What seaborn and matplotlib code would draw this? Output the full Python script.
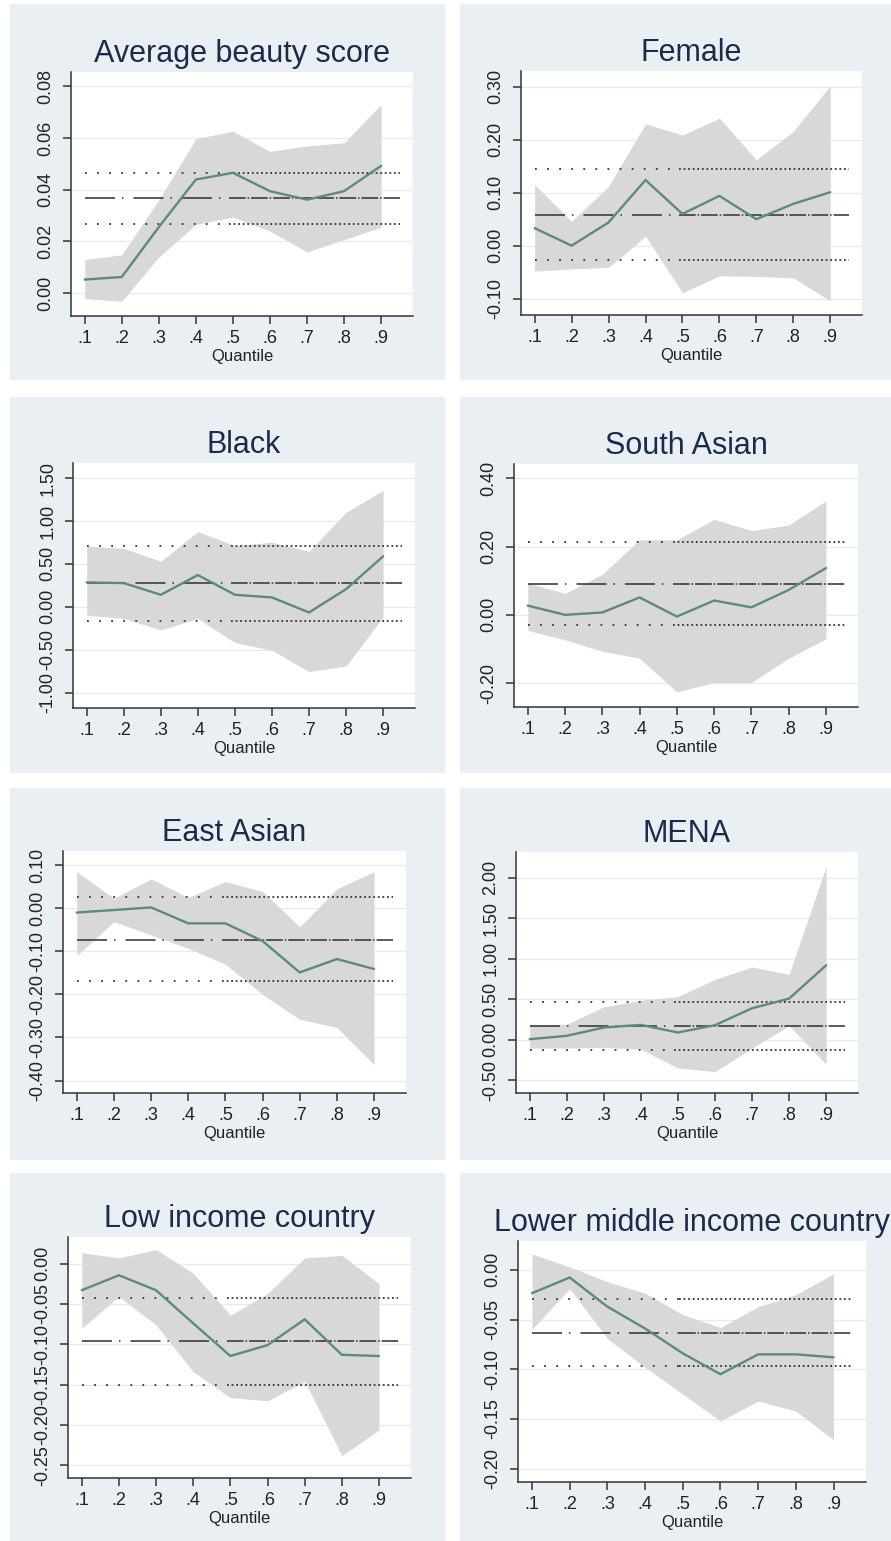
import matplotlib
matplotlib.use("Agg")
import matplotlib.pyplot as plt
from matplotlib.patches import Rectangle
import pandas as pd
import seaborn as sns

# ---------------------------------------------------------------------------
# Quantile-regression coefficients (solid line), their 95% bands (shaded),
# and the OLS coefficient with its 95% interval (horizontal lines).
# ---------------------------------------------------------------------------
quantiles = [0.1, 0.2, 0.3, 0.4, 0.5, 0.6, 0.7, 0.8, 0.9]
quantile_labels = [".1", ".2", ".3", ".4", ".5", ".6", ".7", ".8", ".9"]

titles = ["Average beauty score", "Female", "Black", "South Asian",
          "East Asian", "MENA", "Low income country",
          "Lower middle income country"]

beauty_coef = [0.0052, 0.0062, 0.0255, 0.0439, 0.0465, 0.0394, 0.0361, 0.0394, 0.0492]
beauty_hi = [0.0129, 0.0148, 0.0360, 0.0597, 0.0626, 0.0548, 0.0569, 0.0581, 0.0729]
beauty_lo = [-0.0022, -0.0032, 0.0139, 0.0265, 0.0294, 0.0239, 0.0159, 0.0206, 0.0255]
beauty_ols = [0.0369, 0.0266, 0.0466]

female_coef = [0.033, 0.000, 0.044, 0.124, 0.060, 0.094, 0.050, 0.079, 0.101]
female_hi = [0.115, 0.046, 0.112, 0.230, 0.209, 0.241, 0.162, 0.216, 0.302]
female_lo = [-0.048, -0.044, -0.041, 0.018, -0.089, -0.057, -0.058, -0.061, -0.104]
female_ols = [0.058, -0.028, 0.145]

black_coef = [0.284, 0.276, 0.140, 0.370, 0.140, 0.109, -0.066, 0.206, 0.588]
black_hi = [0.705, 0.681, 0.530, 0.876, 0.713, 0.752, 0.646, 1.102, 1.355]
black_lo = [-0.097, -0.136, -0.269, -0.136, -0.417, -0.506, -0.755, -0.689, -0.117]
black_ols = [0.276, -0.164, 0.705]

sasian_coef = [0.027, 0.000, 0.007, 0.051, -0.005, 0.042, 0.022, 0.073, 0.137]
sasian_hi = [0.093, 0.063, 0.119, 0.220, 0.220, 0.280, 0.247, 0.263, 0.334]
sasian_lo = [-0.046, -0.073, -0.107, -0.127, -0.226, -0.198, -0.198, -0.127, -0.070]
sasian_ols = [0.091, -0.029, 0.212]

easian_coef = [-0.010, -0.004, 0.002, -0.035, -0.035, -0.076, -0.149, -0.118, -0.141]
easian_hi = [0.085, 0.023, 0.068, 0.025, 0.062, 0.039, -0.043, 0.045, 0.085]
easian_lo = [-0.110, -0.031, -0.062, -0.093, -0.130, -0.200, -0.258, -0.277, -0.363]
easian_ols = [-0.073, -0.170, 0.026]

mena_coef = [0.008, 0.049, 0.152, 0.184, 0.090, 0.180, 0.389, 0.508, 0.918]
mena_hi = [0.180, 0.193, 0.406, 0.488, 0.533, 0.746, 0.898, 0.807, 2.139]
mena_lo = [-0.102, -0.102, -0.094, -0.115, -0.348, -0.393, -0.102, 0.172, -0.299]
mena_ols = [0.172, -0.127, 0.467]

lowinc_coef = [-0.033, -0.0144, -0.033, -0.074, -0.1145, -0.101, -0.069, -0.113, -0.1145]
lowinc_hi = [0.0136, 0.007, 0.0173, -0.012, -0.064, -0.037, 0.007, 0.0103, -0.025]
lowinc_lo = [-0.080, -0.041, -0.076, -0.134, -0.166, -0.170, -0.146, -0.238, -0.206]
lowinc_ols = [-0.0955, -0.150, -0.042]

lmid_coef = [-0.0235, -0.0077, -0.037, -0.059, -0.084, -0.105, -0.085, -0.085, -0.088]
lmid_hi = [0.016, 0.003, -0.012, -0.0235, -0.045, -0.058, -0.037, -0.025, -0.004]
lmid_lo = [-0.060, -0.019, -0.069, -0.098, -0.125, -0.152, -0.132, -0.142, -0.171]
lmid_ols = [-0.064, -0.097, -0.0295]

beauty_yticks = [0.00, 0.02, 0.04, 0.06, 0.08]
female_yticks = [-0.10, 0.00, 0.10, 0.20, 0.30]
black_yticks = [-1.00, -0.50, 0.00, 0.50, 1.00, 1.50]
sasian_yticks = [-0.20, 0.00, 0.20, 0.40]
easian_yticks = [-0.40, -0.30, -0.20, -0.10, 0.00, 0.10]
mena_yticks = [-0.50, 0.00, 0.50, 1.00, 1.50, 2.00]
lowinc_yticks = [-0.25, -0.20, -0.15, -0.10, -0.05, 0.00]
lmid_yticks = [-0.20, -0.15, -0.10, -0.05, 0.00]

series = [
    (beauty_coef, beauty_lo, beauty_hi, beauty_ols, beauty_yticks),
    (female_coef, female_lo, female_hi, female_ols, female_yticks),
    (black_coef, black_lo, black_hi, black_ols, black_yticks),
    (sasian_coef, sasian_lo, sasian_hi, sasian_ols, sasian_yticks),
    (easian_coef, easian_lo, easian_hi, easian_ols, easian_yticks),
    (mena_coef, mena_lo, mena_hi, mena_ols, mena_yticks),
    (lowinc_coef, lowinc_lo, lowinc_hi, lowinc_ols, lowinc_yticks),
    (lmid_coef, lmid_lo, lmid_hi, lmid_ols, lmid_yticks),
]

# ---------------------------------------------------------------------------
# Layout (pixels) and styling
# ---------------------------------------------------------------------------
W, H, DPI = 891, 1541, 100

panel_cols = [(10, 445), (460, 891)]
panel_rows = [(4, 380), (397, 773), (788, 1160), (1173, 1541)]

# plot-region boxes: left, top, right, bottom
plot_boxes = [
    (71, 72, 413, 316), (521, 71, 862, 315),
    (73, 463, 415, 708), (514, 464, 858, 707),
    (63, 851, 406, 1093), (516, 852, 858, 1093),
    (68, 1237, 411, 1478), (518, 1241, 866, 1482),
]
y_limits = [
    (-0.0089, 0.0855), (-0.131, 0.330), (-1.179, 1.675), (-0.270, 0.442),
    (-0.429, 0.133), (-0.656, 2.316), (-0.2657, 0.033), (-0.2134, 0.029),
]
X_LIMITS = (0.063, 0.986)
OLS_SPAN = (0.1, 0.95)
DENSE_FROM = 0.49

PANEL_BG = "#e9eff3"
BAND = "#d8d8d8"
LINE = "#5c8b7a"
OLS_COLOR = "#363636"
AXIS_COLOR = "#333333"
GRID = "#e4eaee"
TITLE_COLOR = "#1c2b4b"

sns.set_theme(style="white")
plt.rcParams["font.family"] = ["Liberation Sans", "DejaVu Sans"]
plt.rcParams["axes.unicode_minus"] = False
plt.rcParams["lines.scale_dashes"] = False

fig = plt.figure(figsize=(W / DPI, H / DPI), dpi=DPI)
fig.patch.set_facecolor("white")

for r, (y0, y1) in enumerate(panel_rows):
    for c, (x0, x1) in enumerate(panel_cols):
        fig.add_artist(Rectangle((x0 / W, 1 - y1 / H), (x1 - x0) / W, (y1 - y0) / H,
                                 transform=fig.transFigure, facecolor=PANEL_BG,
                                 edgecolor="none", zorder=0))


def ols_line(ax, y, sparse_style, dense_style, lw):
    """Horizontal OLS reference: sparse pattern on the left, denser to the right."""
    ax.plot([OLS_SPAN[0], DENSE_FROM], [y, y], color=OLS_COLOR, lw=lw,
            linestyle=sparse_style, zorder=3, solid_capstyle="butt", dash_capstyle="butt")
    ax.plot([DENSE_FROM, OLS_SPAN[1]], [y, y], color=OLS_COLOR, lw=lw,
            linestyle=dense_style, zorder=3, solid_capstyle="butt", dash_capstyle="butt")


for i, (title, (coef, lo, hi, ols, yticks)) in enumerate(zip(titles, series)):
    l, t, rgt, b = plot_boxes[i]
    ax = fig.add_axes([l / W, 1 - b / H, (rgt - l) / W, (b - t) / H])
    ax.set_facecolor("white")

    df = pd.DataFrame({"quantile": quantiles, "coef": coef, "lo": lo, "hi": hi})
    ax.fill_between(df["quantile"], df["lo"], df["hi"], color=BAND, lw=0, zorder=1)
    sns.lineplot(data=df, x="quantile", y="coef", ax=ax, color=LINE, lw=1.7, zorder=4)

    est, ci_lo, ci_hi = ols
    ols_line(ax, est, (0, (21.6, 5.0, 1.1, 7.2)), (0, (12.0, 1.4, 1.1, 1.4)), 1.15)
    for v in (ci_lo, ci_hi):
        ols_line(ax, v, (0, (1.3, 7.4)), (0, (1.3, 2.0)), 1.3)

    ax.set_xlim(*X_LIMITS)
    ax.set_ylim(*y_limits[i])
    ax.set_xticks(quantiles, quantile_labels)
    ax.set_yticks(yticks, [f"{v:.2f}" for v in yticks])
    ax.yaxis.grid(True, color=GRID, lw=0.9, zorder=0)
    ax.set_axisbelow(True)

    for side in ("top", "right"):
        ax.spines[side].set_visible(False)
    for side in ("left", "bottom"):
        ax.spines[side].set_color(AXIS_COLOR)
        ax.spines[side].set_linewidth(1.1)

    ax.tick_params(axis="both", direction="out", length=5.8, width=1.1,
                   color=AXIS_COLOR, labelsize=13, labelcolor="#222222")
    ax.tick_params(axis="x", pad=4, bottom=True)
    ax.tick_params(axis="y", pad=6, left=True, labelrotation=90)
    for lbl in ax.get_yticklabels():
        lbl.set_verticalalignment("center")

    ax.set_xlabel("Quantile", fontsize=12, color="#222222", labelpad=1.5)
    ax.set_ylabel("")
    ax.set_title(title, fontsize=22, color=TITLE_COLOR, pad=7)

fig.savefig("out.png", dpi=DPI, facecolor="white")
